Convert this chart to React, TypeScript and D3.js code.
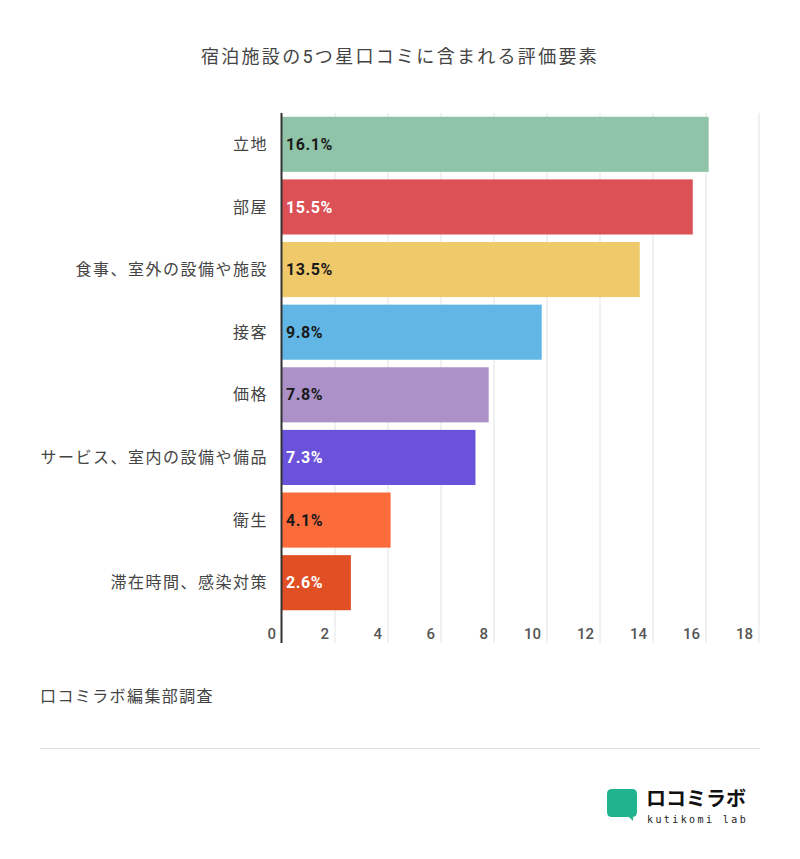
import { useEffect, useRef } from "react"
import * as d3 from "d3"

const categories = [
  "立地",
  "部屋",
  "食事、室外の設備や施設",
  "接客",
  "価格",
  "サービス、室内の設備や備品",
  "衛生",
  "滞在時間、感染対策",
]
const values = [16.1, 15.5, 13.5, 9.8, 7.8, 7.3, 4.1, 2.6]
const barColors = ["#8fc4a9", "#db5156", "#efc96a", "#62b6e6", "#ab91c7", "#6a52db", "#fc6c3b", "#e14f25"]
const labelColors = ["#1a1a1a", "#ffffff", "#1a1a1a", "#1a1a1a", "#1a1a1a", "#ffffff", "#1a1a1a", "#ffffff"]
const xTicks = [0, 2, 4, 6, 8, 10, 12, 14, 16, 18]

const title = "宿泊施設の5つ星口コミに含まれる評価要素"
const source = "口コミラボ編集部調査"

const FONT = "Roboto, 'Noto Sans CJK JP', sans-serif"

export default function App() {
  const svgRef = useRef<SVGSVGElement>(null)

  useEffect(() => {
    if (!svgRef.current) return
    const svg = d3.select(svgRef.current)
    svg.selectAll("*").remove()

    const width = 800
    const left = 282
    const right = 759
    const top = 113
    const bottom = 614

    svg.append("rect").attr("width", width).attr("height", 859).attr("fill", "#fff")

    // Title
    svg
      .append("text")
      .attr("x", 400)
      .attr("y", 63)
      .attr("text-anchor", "middle")
      .attr("font-family", FONT)
      .attr("font-size", 18)
      .attr("letter-spacing", 2.3)
      .attr("fill", "#444")
      .text(title)

    const x = d3.scaleLinear().domain([0, 18]).range([left, right])
    const y = d3.scaleBand().domain(categories).range([top, bottom]).paddingInner(0.12).paddingOuter(0.06)

    // Gridlines
    svg
      .append("g")
      .selectAll("line")
      .data(xTicks.slice(1))
      .join("line")
      .attr("x1", (d) => x(d))
      .attr("x2", (d) => x(d))
      .attr("y1", top)
      .attr("y2", 643)
      .attr("stroke", "#e2e2e2")
      .attr("stroke-width", 1)

    // Tick labels
    svg
      .append("g")
      .selectAll("text")
      .data(xTicks)
      .join("text")
      .attr("x", (d) => x(d) - 6)
      .attr("y", 639)
      .attr("text-anchor", "end")
      .attr("font-family", FONT)
      .attr("font-size", 15)
      .attr("font-weight", 500)
      .attr("fill", "#555")
      .text((d) => d)

    // Bars
    const bars = svg.append("g")
    bars
      .selectAll("rect")
      .data(values)
      .join("rect")
      .attr("x", x(0))
      .attr("y", (_, i) => y(categories[i])!)
      .attr("width", (d) => x(d) - x(0))
      .attr("height", y.bandwidth())
      .attr("fill", (_, i) => barColors[i])

    // Value labels
    bars
      .selectAll("text")
      .data(values)
      .join("text")
      .attr("x", x(0) + 4)
      .attr("y", (_, i) => y(categories[i])! + y.bandwidth() / 2)
      .attr("dy", "0.35em")
      .attr("font-family", FONT)
      .attr("font-size", 16)
      .attr("letter-spacing", 0.6)
      .attr("font-weight", "bold")
      .attr("fill", (_, i) => labelColors[i])
      .text((d) => `${d.toFixed(1)}%`)

    // Category labels
    svg
      .append("g")
      .selectAll("text")
      .data(categories)
      .join("text")
      .attr("x", 268)
      .attr("y", (d) => y(d)! + y.bandwidth() / 2)
      .attr("dy", "0.35em")
      .attr("text-anchor", "end")
      .attr("font-family", FONT)
      .attr("font-size", 16)
      .attr("letter-spacing", 1.5)
      .attr("fill", "#444")
      .text((d) => d)

    // Axis line
    svg
      .append("line")
      .attr("x1", left - 0.5)
      .attr("x2", left - 0.5)
      .attr("y1", top)
      .attr("y2", 643)
      .attr("stroke", "#333")
      .attr("stroke-width", 2)

    // Source
    svg
      .append("text")
      .attr("x", 40)
      .attr("y", 702)
      .attr("font-family", FONT)
      .attr("font-size", 16)
      .attr("letter-spacing", 1.4)
      .attr("fill", "#444")
      .text(source)

    svg
      .append("line")
      .attr("x1", 40)
      .attr("x2", 760)
      .attr("y1", 748.5)
      .attr("y2", 748.5)
      .attr("stroke", "#ddd")

    // Logo
    const logo = svg.append("g")
    logo
      .append("path")
      .attr(
        "d",
        "M612,789 H632 Q637,789 637,794 V812 Q637,817 632,817 H633 L633,821 L629,817 H612 Q607,817 607,812 V794 Q607,789 612,789 Z"
      )
      .attr("fill", "#1fb48e")
    logo
      .append("text")
      .attr("x", 646)
      .attr("y", 806)
      .attr("font-family", "'Noto Sans CJK JP', sans-serif")
      .attr("font-size", 20)
      .attr("font-weight", "bold")
      .attr("fill", "#111")
      .text("ロコミラボ")
    logo
      .append("text")
      .attr("x", 647)
      .attr("y", 823)
      .attr("font-family", "'DejaVu Sans Mono', monospace")
      .attr("font-size", 10)
      .attr("fill", "#222")
      .attr("letter-spacing", 2.4)
      .text("kutikomi lab")
  }, [])

  return (
    <div style={{ margin: -8 }}>
      <svg ref={svgRef} width={800} height={859} style={{ display: "block" }} />
    </div>
  )
}
